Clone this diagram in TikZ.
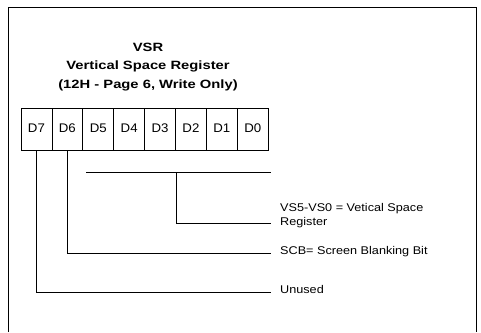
\documentclass[tikz,border=0pt]{standalone}
\usepackage{fontspec}
\setmainfont{Liberation Sans}
\newfontfamily\ttlfont{Liberation Sans}[FakeStretch=1.23,BoldFont={Liberation Sans Bold}]
\newfontfamily\lblfont{Liberation Sans}[FakeStretch=1.13]
\newfontfamily\cellfont{Liberation Sans}[FakeStretch=1.06]
\begin{document}
\begin{tikzpicture}[x=1pt,y=-1pt,
  cell/.style={draw,line width=0.8pt,minimum width=30.9pt,minimum height=42.5pt,inner sep=0pt,text height=9pt,text depth=4pt,font=\cellfont\fontsize{12.5}{14}\selectfont},
  lbl/.style={anchor=base west,inner sep=0pt,font=\lblfont\fontsize{11.2}{13.8}\selectfont,align=left},
  ttl/.style={anchor=base,inner sep=0pt,font=\ttlfont\bfseries\fontsize{12}{14}\selectfont},
  wire/.style={line width=0.8pt}]
\useasboundingbox (0,0) rectangle (481,332);
\draw[line width=1pt] (8,332) -- (8,7) -- (476,7) -- (476,332);
\node[ttl] (t1) at (148,51) {VSR};
\node[ttl] (t2) at (148,69.5) {Vertical Space Register};
\node[ttl] (t3) at (148,88.3) {(12H - Page 6, Write Only)};
\foreach \n [count=\i from 0] in {D7,D6,D5,D4,D3,D2,D1,D0}
  \node[cell] (\n) at ({21+30.9*\i+15.45},129.5) {\n};
\node[lbl] (vs) at (280,225) {VS5-VS0 = Vetical Space\\Register};
\node[lbl] (scb) at (280,254.5) {SCB= Screen Blanking Bit};
\node[lbl] (un) at (280,293) {Unused};
\coordinate (b1) at (86,172);
\coordinate (b2) at (271,172);
\coordinate (bm) at (176,172);
\coordinate (e1) at (271,223);
\coordinate (e2) at (271,253.5);
\coordinate (e3) at (271,292.5);
\draw[wire] (b1) -- (b2);
\draw[wire] (bm) |- (e1);
\draw[wire] (D6.south) |- (e2);
\draw[wire] (D7.south) |- (e3);
\end{tikzpicture}
\end{document}
